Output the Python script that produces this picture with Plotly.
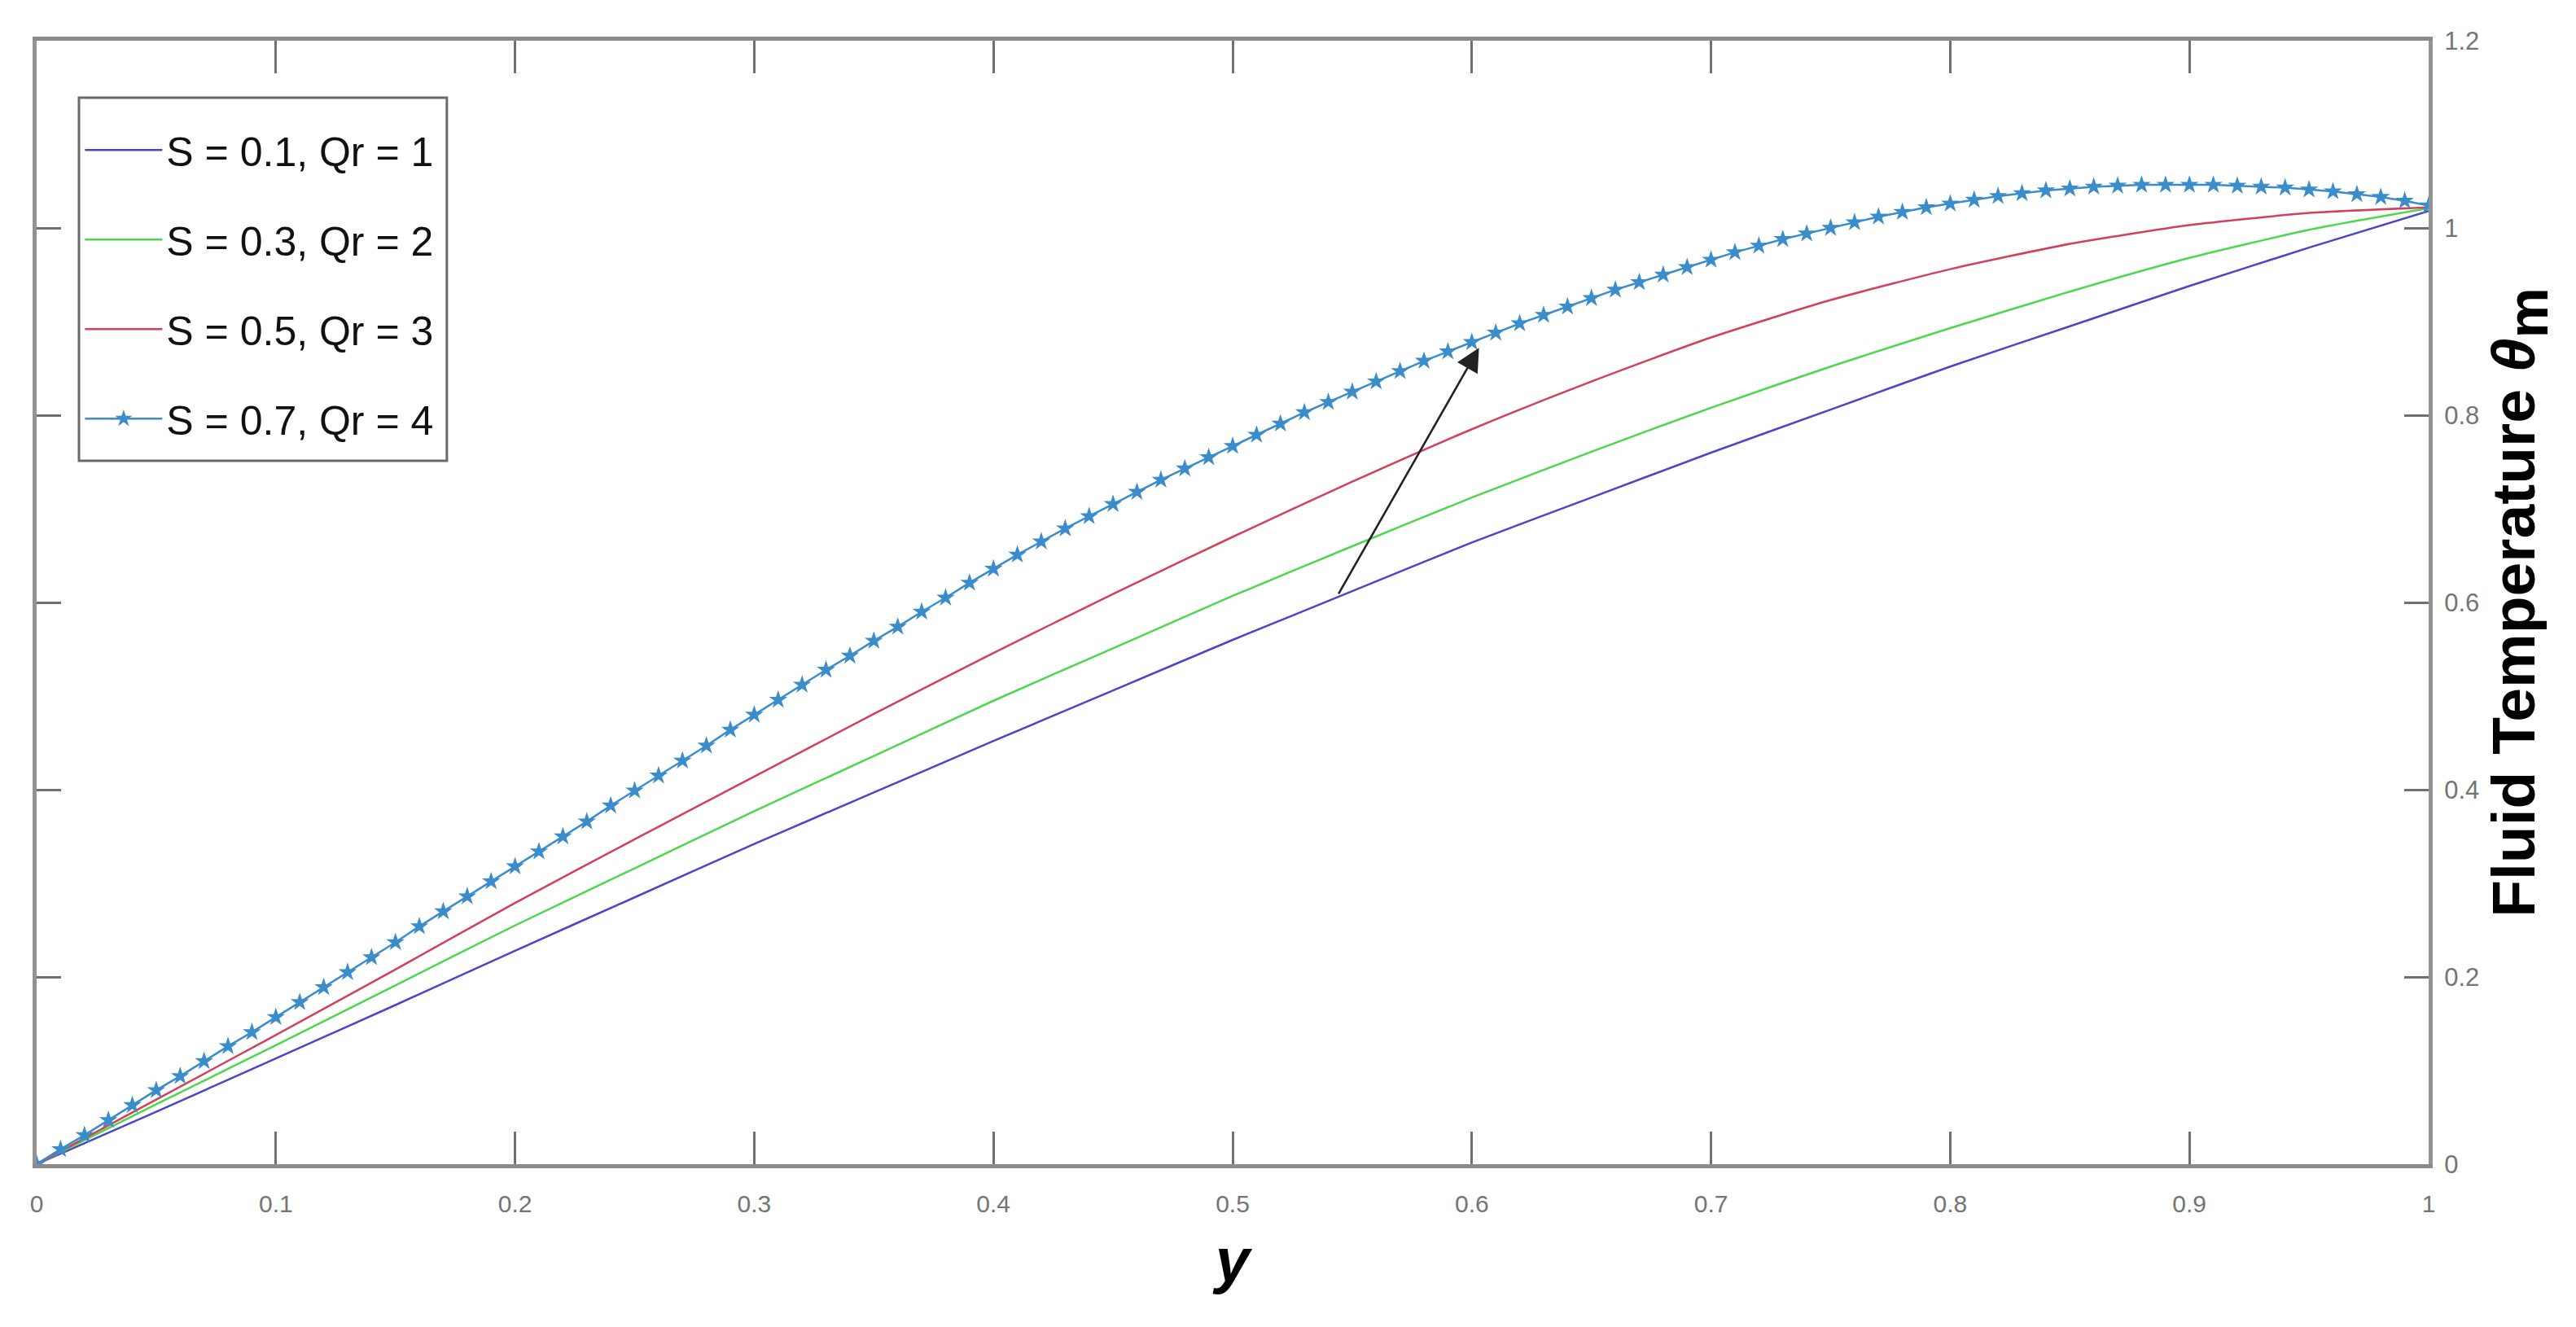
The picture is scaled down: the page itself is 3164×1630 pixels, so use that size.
import plotly.graph_objects as go

# ---------------- data ----------------
y_coarse = [0.00, 0.05, 0.10, 0.15, 0.20, 0.25, 0.30, 0.35, 0.40, 0.45, 0.50,
            0.55, 0.60, 0.65, 0.70, 0.75, 0.80, 0.85, 0.90, 0.95, 1.00]

theta_s01_qr1 = [0.000, 0.056, 0.113, 0.170, 0.228, 0.285, 0.342, 0.397, 0.452, 0.506, 0.560,
                 0.612, 0.664, 0.712, 0.760, 0.806, 0.852, 0.895, 0.938, 0.979, 1.018]
theta_s03_qr2 = [0.000, 0.064, 0.127, 0.191, 0.255, 0.316, 0.377, 0.436, 0.495, 0.551, 0.607,
                 0.660, 0.712, 0.761, 0.808, 0.852, 0.893, 0.932, 0.968, 0.998, 1.021]
theta_s05_qr3 = [0.000, 0.069, 0.138, 0.208, 0.279, 0.347, 0.414, 0.481, 0.546, 0.609, 0.670,
                 0.729, 0.785, 0.836, 0.883, 0.923, 0.956, 0.983, 1.003, 1.016, 1.022]

y_fine = [round(i * 0.01, 2) for i in range(101)]
theta_s07_qr4 = [0.000, 0.016, 0.031, 0.047, 0.063, 0.079, 0.094, 0.110, 0.126, 0.141,
                 0.157, 0.173, 0.189, 0.205, 0.221, 0.237, 0.254, 0.270, 0.286, 0.302,
                 0.318, 0.334, 0.350, 0.366, 0.383, 0.399, 0.415, 0.431, 0.447, 0.464,
                 0.480, 0.496, 0.512, 0.528, 0.543, 0.559, 0.574, 0.590, 0.605, 0.621,
                 0.636, 0.651, 0.665, 0.679, 0.692, 0.705, 0.718, 0.731, 0.743, 0.755,
                 0.767, 0.779, 0.791, 0.803, 0.814, 0.825, 0.836, 0.847, 0.858, 0.868,
                 0.878, 0.888, 0.898, 0.907, 0.916, 0.925, 0.934, 0.942, 0.950, 0.958,
                 0.966, 0.974, 0.981, 0.988, 0.994, 1.000, 1.006, 1.012, 1.017, 1.022,
                 1.026, 1.030, 1.034, 1.037, 1.040, 1.042, 1.044, 1.045, 1.046, 1.046,
                 1.046, 1.046, 1.045, 1.044, 1.043, 1.041, 1.039, 1.036, 1.033, 1.029,
                 1.024]

series_names = ["S = 0.1, Qr = 1", "S = 0.3, Qr = 2", "S = 0.5, Qr = 3", "S = 0.7, Qr = 4"]
x_ticks = [0, 0.1, 0.2, 0.3, 0.4, 0.5, 0.6, 0.7, 0.8, 0.9, 1]
y_ticks = [0, 0.2, 0.4, 0.6, 0.8, 1, 1.2]

# arrow: tail on lowest curve, head on the starred curve
arrow_tail = (0.544, 0.608)
arrow_head = (0.603, 0.872)

# ---------------- figure ----------------
FONT = "Arial, Liberation Sans, Helvetica, sans-serif"
TICK_GRAY = "#747474"

fig = go.Figure()
line_colors = ["#4a46c8", "#4cd84c", "#d2405a"]
for i, (vals, col) in enumerate(zip([theta_s01_qr1, theta_s03_qr2, theta_s05_qr3], line_colors)):
    fig.add_trace(go.Scatter(
        x=y_coarse, y=vals, mode="lines", name=series_names[i],
        line=dict(color=col, width=2.5, shape="spline", smoothing=0.6),
        legendgroup=f"g{i}",
    ))
fig.add_trace(go.Scatter(
    x=y_fine, y=theta_s07_qr4, mode="lines+markers", name=series_names[3],
    line=dict(color="#3a8ccb", width=2.5),
    marker=dict(symbol="star", size=17, color="#3a8ccb", line=dict(width=0)),
    legendgroup="g3",
))

fig.add_annotation(
    x=arrow_head[0], y=arrow_head[1], ax=arrow_tail[0], ay=arrow_tail[1],
    xref="x", yref="y", axref="x", ayref="y",
    showarrow=True, arrowhead=2, arrowsize=2.2, arrowwidth=2.6, arrowcolor="#222222",
    text="",
)

# legend frame (drawn as a box so its padding matches the original)
fig.add_shape(type="rect", xref="paper", yref="paper",
              x0=0.0177, x1=0.1715, y0=0.626, y1=0.9493,
              line=dict(color="#6a6a6a", width=3), fillcolor="white", layer="below")

fig.update_layout(
    width=3164, height=1630, autosize=False,
    margin=dict(l=45, r=181, t=50, b=200),
    paper_bgcolor="white", plot_bgcolor="white",
    font=dict(family=FONT, color="black"),
    showlegend=True,
    legend=dict(
        x=0.0185, y=0.931, xanchor="left", yanchor="top",
        bgcolor="rgba(0,0,0,0)", borderwidth=0,
        font=dict(family=FONT, size=50, color="#111111"),
        tracegroupgap=42, itemwidth=95,
    ),
    xaxis=dict(
        range=[0, 1], tickvals=x_ticks, ticktext=[str(v) for v in x_ticks],
        showgrid=False, zeroline=False,
        showline=True, linecolor="#8a8a8a", linewidth=5, mirror="ticks",
        ticks="inside", ticklen=40, tickwidth=3, tickcolor="#707070",
        tickfont=dict(family=FONT, size=30, color=TICK_GRAY),
        ticklabelstandoff=18,
        title=dict(text="<b><i>y</i></b>", font=dict(family=FONT, size=76, color="black"), standoff=28),
    ),
    yaxis=dict(
        range=[0, 1.2], tickvals=y_ticks, ticktext=[str(v) for v in y_ticks],
        side="right",
        showgrid=False, zeroline=False,
        showline=True, linecolor="#939393", linewidth=5, mirror="ticks",
        ticks="inside", ticklen=30, tickwidth=3, tickcolor="#707070",
        tickfont=dict(family=FONT, size=31, color=TICK_GRAY),
        ticklabelstandoff=8,
        title=dict(text="<b>Fluid Temperature <i>θ</i><sub><span style='font-size:70px'>m</span></sub></b>",
                   font=dict(family=FONT, size=75, color="black"), standoff=16),
    ),
)

fig.write_html("out.html", post_script="document.body.style.margin='0';",
               config={"displayModeBar": False})
